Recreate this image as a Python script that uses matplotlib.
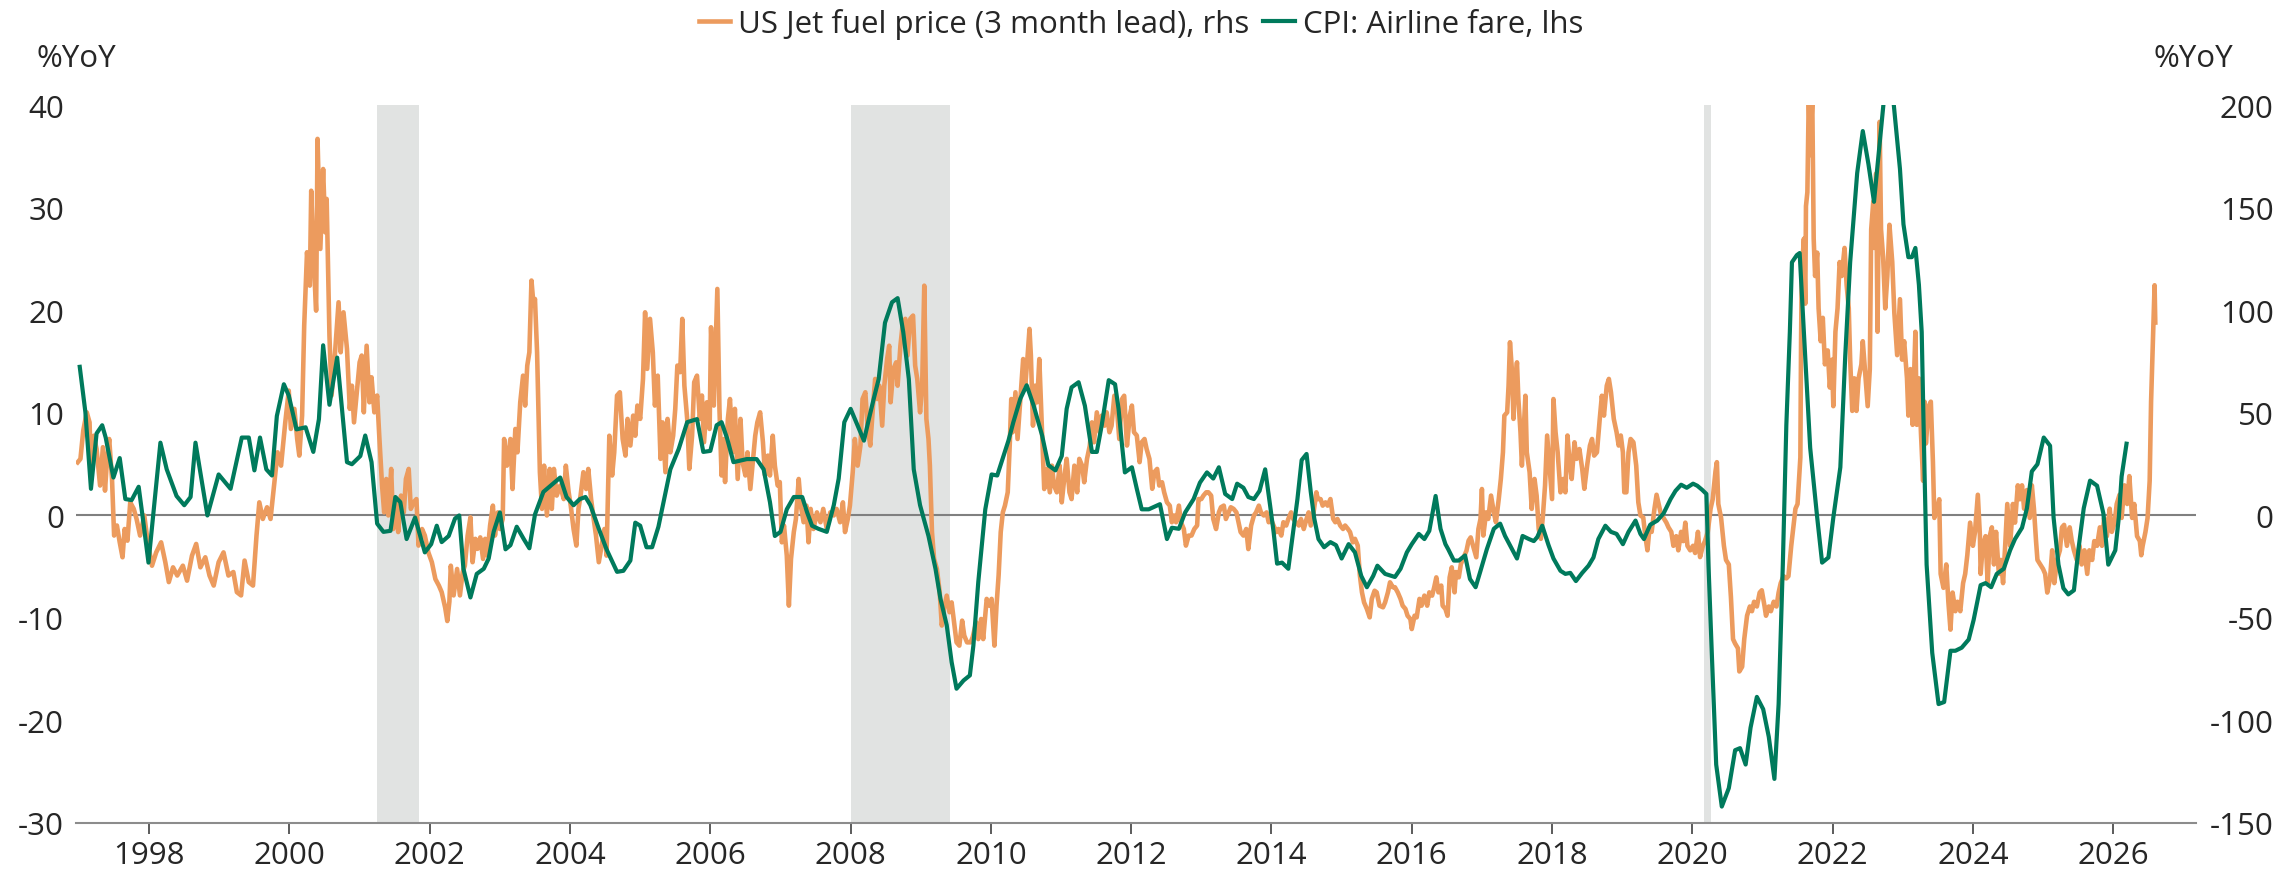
import matplotlib.pyplot as plt

plt.rcParams['font.family'] = ['Open Sans', 'DejaVu Sans']
plt.rcParams['axes.unicode_minus'] = False

# CPI: Airline fare, %YoY (left axis)
cpi_year = [1997.01, 1997.09, 1997.17, 1997.25, 1997.33, 1997.38, 1997.49, 1997.58, 1997.66, 1997.75,
            1997.85, 1997.91, 1997.99, 1998.16, 1998.25, 1998.39, 1998.50, 1998.59, 1998.66, 1998.83,
            1998.99, 1999.16, 1999.32, 1999.42, 1999.50, 1999.58, 1999.67, 1999.75, 1999.82, 1999.92,
            1999.99, 2000.10, 2000.23, 2000.34, 2000.42, 2000.48, 2000.57, 2000.68, 2000.82, 2000.89,
            2001.01, 2001.08, 2001.17, 2001.25, 2001.34, 2001.44, 2001.51, 2001.58, 2001.67, 2001.79,
            2001.93, 2002.02, 2002.10, 2002.17, 2002.27, 2002.36, 2002.42, 2002.48, 2002.58, 2002.67,
            2002.77, 2002.84, 2002.91, 2003.00, 2003.08, 2003.15, 2003.24, 2003.34, 2003.42, 2003.50,
            2003.62, 2003.74, 2003.86, 2003.95, 2004.05, 2004.14, 2004.22, 2004.29, 2004.41, 2004.52,
            2004.67, 2004.76, 2004.86, 2004.93, 2005.00, 2005.09, 2005.17, 2005.26, 2005.43, 2005.55,
            2005.67, 2005.81, 2005.90, 2006.00, 2006.09, 2006.16, 2006.24, 2006.33, 2006.52, 2006.66,
            2006.76, 2006.85, 2006.92, 2007.00, 2007.09, 2007.19, 2007.31, 2007.38, 2007.45, 2007.54,
            2007.66, 2007.76, 2007.83, 2007.91, 2008.00, 2008.14, 2008.19, 2008.26, 2008.33, 2008.40,
            2008.49, 2008.59, 2008.67, 2008.75, 2008.83, 2008.90, 2008.99, 2009.11, 2009.21, 2009.28,
            2009.37, 2009.44, 2009.51, 2009.61, 2009.70, 2009.75, 2009.82, 2009.92, 2010.01, 2010.09,
            2010.18, 2010.25, 2010.32, 2010.42, 2010.51, 2010.61, 2010.73, 2010.82, 2010.92, 2011.01,
            2011.08, 2011.15, 2011.25, 2011.34, 2011.44, 2011.51, 2011.58, 2011.68, 2011.77, 2011.82,
            2011.87, 2011.91, 2012.01, 2012.08, 2012.15, 2012.25, 2012.41, 2012.51, 2012.58, 2012.68,
            2012.77, 2012.89, 2012.98, 2013.08, 2013.17, 2013.25, 2013.34, 2013.44, 2013.51, 2013.60,
            2013.67, 2013.75, 2013.83, 2013.91, 2013.98, 2014.03, 2014.08, 2014.15, 2014.24, 2014.32,
            2014.37, 2014.43, 2014.50, 2014.56, 2014.61, 2014.67, 2014.75, 2014.84, 2014.92, 2015.00,
            2015.10, 2015.19, 2015.28, 2015.36, 2015.45, 2015.51, 2015.62, 2015.76, 2015.84, 2015.93,
            2016.00, 2016.10, 2016.18, 2016.25, 2016.34, 2016.41, 2016.48, 2016.52, 2016.60, 2016.67,
            2016.76, 2016.83, 2016.91, 2016.98, 2017.07, 2017.17, 2017.26, 2017.33, 2017.40, 2017.50,
            2017.58, 2017.67, 2017.74, 2017.79, 2017.86, 2017.95, 2018.02, 2018.12, 2018.19, 2018.26,
            2018.34, 2018.43, 2018.52, 2018.59, 2018.66, 2018.76, 2018.84, 2018.92, 2019.01, 2019.09,
            2019.19, 2019.26, 2019.31, 2019.40, 2019.50, 2019.59, 2019.69, 2019.76, 2019.84, 2019.92,
            2020.01, 2020.07, 2020.14, 2020.20, 2020.23, 2020.28, 2020.34, 2020.42, 2020.52, 2020.61,
            2020.68, 2020.76, 2020.83, 2020.92, 2021.01, 2021.09, 2021.17, 2021.23, 2021.29, 2021.34,
            2021.39, 2021.42, 2021.49, 2021.53, 2021.59, 2021.68, 2021.78, 2021.85, 2021.94, 2022.01,
            2022.11, 2022.18, 2022.25, 2022.35, 2022.43, 2022.51, 2022.59, 2022.66, 2022.73, 2022.80,
            2022.87, 2022.96, 2023.01, 2023.08, 2023.13, 2023.18, 2023.23, 2023.27, 2023.31, 2023.34,
            2023.42, 2023.51, 2023.59, 2023.68, 2023.75, 2023.84, 2023.94, 2024.01, 2024.11, 2024.18,
            2024.26, 2024.34, 2024.44, 2024.53, 2024.60, 2024.70, 2024.77, 2024.84, 2024.92, 2025.01,
            2025.10, 2025.15, 2025.22, 2025.29, 2025.36, 2025.44, 2025.51, 2025.58, 2025.67, 2025.77,
            2025.86, 2025.93, 2026.03, 2026.08, 2026.12, 2026.19]
cpi_yoy = [14.5, 10.1, 2.6, 8.0, 8.8, 7.6, 3.7, 5.6, 1.6, 1.5,
           2.8, -0.3, -4.6, 7.1, 4.5, 1.9, 1.0, 1.8, 7.1, 0.0,
           4.0, 2.6, 7.6, 7.6, 4.4, 7.6, 4.5, 3.9, 9.7, 12.8,
           11.7, 8.4, 8.6, 6.2, 9.4, 16.6, 10.8, 15.4, 5.2, 5.0,
           5.8, 7.8, 5.2, -0.8, -1.6, -1.5, 1.8, 1.3, -2.3, -0.2,
           -3.6, -2.8, -1.0, -2.6, -2.0, -0.3, 0.0, -5.2, -8.0, -5.7,
           -5.2, -4.2, -1.6, 0.3, -3.3, -2.9, -1.1, -2.3, -3.2, 0.1,
           2.3, 3.0, 3.7, 1.8, 1.0, 1.6, 1.8, 1.0, -1.3, -3.3,
           -5.5, -5.4, -4.4, -0.7, -1.0, -3.1, -3.1, -1.1, 4.5, 6.5,
           9.1, 9.4, 6.2, 6.3, 8.8, 9.1, 7.5, 5.2, 5.5, 5.5,
           4.5, 1.3, -2.0, -1.6, 0.6, 1.8, 1.8, 0.3, -1.0, -1.3,
           -1.6, 1.0, 3.6, 9.1, 10.4, 8.1, 7.3, 9.4, 11.4, 13.3,
           18.8, 20.8, 21.2, 17.9, 13.3, 4.5, 1.0, -2.0, -5.2, -8.1,
           -10.7, -14.3, -16.9, -16.1, -15.6, -12.7, -6.5, 0.6, 4.0, 3.9,
           5.8, 7.3, 9.1, 11.4, 12.7, 10.7, 7.8, 4.9, 4.4, 5.8,
           10.4, 12.5, 13.0, 10.7, 6.2, 6.2, 8.8, 13.2, 12.8, 10.4,
           6.8, 4.2, 4.7, 2.6, 0.6, 0.6, 1.1, -2.3, -1.2, -1.3,
           0.3, 1.6, 3.2, 4.2, 3.6, 4.7, 2.1, 1.6, 3.1, 2.7,
           1.8, 1.6, 2.4, 4.5, 1.0, -1.6, -4.7, -4.6, -5.2, -1.0,
           1.6, 5.4, 6.0, 2.3, -0.3, -2.3, -3.1, -2.6, -2.9, -4.2,
           -2.8, -3.6, -5.9, -7.0, -5.9, -4.9, -5.7, -6.0, -5.2, -3.6,
           -2.8, -1.8, -2.3, -1.5, 1.9, -1.3, -2.8, -3.3, -4.4, -4.4,
           -3.9, -6.2, -7.0, -5.4, -3.3, -1.3, -0.8, -2.0, -2.9, -4.2,
           -2.0, -2.3, -2.5, -2.1, -1.0, -2.9, -4.2, -5.4, -5.7, -5.6,
           -6.4, -5.6, -4.9, -4.1, -2.3, -1.0, -1.6, -1.8, -2.8, -1.6,
           -0.5, -1.8, -2.3, -0.9, -0.5, 0.2, 1.6, 2.4, 3.0, 2.7,
           3.1, 2.9, 2.5, 2.1, -4.8, -13.9, -24.3, -28.4, -26.6, -22.9,
           -22.7, -24.3, -20.7, -17.7, -18.9, -21.6, -25.7, -18.4, -4.8, 8.8,
           17.9, 24.7, 25.4, 25.6, 17.9, 6.6, -0.2, -4.6, -4.1, -0.2,
           4.7, 15.6, 24.7, 33.4, 37.5, 34.3, 30.6, 35.6, 40.5, 44.0,
           40.2, 33.8, 28.4, 25.2, 25.2, 26.1, 22.5, 17.9, 4.3, -4.8,
           -13.4, -18.4, -18.2, -13.2, -13.2, -12.9, -12.1, -10.2, -6.8, -6.6,
           -7.0, -5.7, -5.2, -3.4, -2.3, -1.2, 0.7, 4.3, 5.0, 7.6,
           6.8, -0.2, -4.8, -7.1, -7.7, -7.3, -3.0, 0.7, 3.4, 2.9,
           0.2, -4.8, -3.4, -0.2, 3.8, 7.0]

# US Jet fuel price, %YoY, shifted 3 months ahead (right axis): (year, value)
jet_points = [
    (1996.98, 25.9), (1997.02, 27.6), (1997.06, 41.4), (1997.11, 50.3), (1997.15, 45.4), (1997.17, 22.7),
    (1997.21, 38.9), (1997.25, 32.4), (1997.30, 14.6), (1997.34, 33.3), (1997.37, 12.1), (1997.40, 27.6),
    (1997.43, 37.3), (1997.47, 17.8), (1997.50, -9.8), (1997.54, -4.9), (1997.58, -13.1), (1997.62, -20.4),
    (1997.65, -6.6), (1997.69, -12.3), (1997.73, 6.4), (1997.78, 3.2), (1997.82, -1.7), (1997.87, -9.8),
    (1997.93, 0.0), (1997.98, -13.1), (1998.04, -24.5), (1998.10, -18.0), (1998.17, -13.1), (1998.23, -22.8),
    (1998.28, -32.5), (1998.34, -25.3), (1998.40, -29.3), (1998.48, -24.5), (1998.54, -31.8), (1998.61, -19.6),
    (1998.67, -13.9), (1998.73, -25.3), (1998.80, -20.4), (1998.86, -29.3), (1998.92, -34.2), (1998.99, -22.8),
    (1999.06, -18.0), (1999.13, -29.3), (1999.20, -27.6), (1999.25, -37.4), (1999.31, -39.0), (1999.36, -22.0),
    (1999.42, -32.5), (1999.48, -34.2), (1999.53, -9.8), (1999.57, 6.4), (1999.62, -1.7), (1999.68, 4.0),
    (1999.73, -1.7), (1999.78, 14.6), (1999.83, 30.8), (1999.88, 24.3), (1999.94, 45.4), (1999.99, 60.9),
    (2000.02, 42.2), (2000.07, 52.0), (2000.11, 37.3), (2000.14, 29.2), (2000.18, 48.7), (2000.21, 92.6),
    (2000.25, 128.4), (2000.29, 112.1), (2000.31, 158.4), (2000.34, 128.4), (2000.38, 99.9), (2000.40, 183.7),
    (2000.44, 130.0), (2000.48, 169.0), (2000.51, 138.1), (2000.53, 154.4), (2000.57, 87.7), (2000.60, 58.5),
    (2000.65, 79.6), (2000.70, 104.0), (2000.73, 79.6), (2000.77, 99.1), (2000.82, 81.2), (2000.86, 52.0),
    (2000.89, 63.3), (2000.92, 45.4), (2000.96, 60.1), (2001.00, 74.7), (2001.03, 78.0), (2001.06, 50.3),
    (2001.10, 82.8), (2001.14, 55.2), (2001.17, 67.4), (2001.21, 50.3), (2001.25, 58.5), (2001.28, 38.9),
    (2001.32, 14.6), (2001.35, 1.5), (2001.38, 17.8), (2001.41, 0.0), (2001.45, 22.7), (2001.48, -6.6),
    (2001.52, 6.4), (2001.55, -8.1), (2001.59, 9.7), (2001.63, 1.5), (2001.66, 17.8), (2001.70, 22.7),
    (2001.73, 3.2), (2001.77, 6.4), (2001.81, 8.0), (2001.84, -14.7), (2001.89, -6.6), (2001.93, -9.8),
    (2001.98, -18.0), (2002.03, -22.8), (2002.08, -31.0), (2002.13, -34.2), (2002.17, -37.4), (2002.22, -45.0),
    (2002.25, -51.5), (2002.28, -42.0), (2002.30, -24.5), (2002.34, -39.0), (2002.39, -26.1), (2002.43, -39.0),
    (2002.47, -27.6), (2002.50, -24.5), (2002.54, -9.8), (2002.58, -0.9), (2002.61, -22.8), (2002.65, -11.4),
    (2002.68, -16.3), (2002.72, -10.7), (2002.76, -21.2), (2002.79, -11.4), (2002.82, -19.6), (2002.86, -4.9),
    (2002.90, 4.8), (2002.93, -9.8), (2002.97, 1.5), (2003.00, -6.6), (2003.04, -1.7), (2003.06, 37.3),
    (2003.10, 24.3), (2003.15, 37.3), (2003.18, 12.9), (2003.22, 42.2), (2003.25, 30.8), (2003.29, 55.2),
    (2003.33, 68.2), (2003.36, 53.6), (2003.39, 73.1), (2003.42, 79.6), (2003.45, 114.6), (2003.48, 102.4),
    (2003.50, 105.6), (2003.53, 79.6), (2003.57, 21.1), (2003.60, 3.2), (2003.63, 24.3), (2003.67, 0.0),
    (2003.71, 22.7), (2003.74, 3.2), (2003.77, 22.7), (2003.81, 9.7), (2003.86, 14.6), (2003.91, 8.0),
    (2003.94, 24.3), (2003.98, 11.4), (2004.01, 4.8), (2004.05, -6.6), (2004.09, -14.7), (2004.12, 3.2),
    (2004.15, 9.7), (2004.19, 21.1), (2004.23, 12.9), (2004.26, 22.7), (2004.30, 8.0), (2004.33, 0.0),
    (2004.37, -9.8), (2004.41, -22.8), (2004.49, -6.6), (2004.52, -19.6), (2004.56, 38.9), (2004.60, 19.5),
    (2004.63, 30.8), (2004.67, 58.5), (2004.71, 60.1), (2004.75, 37.3), (2004.79, 29.2), (2004.82, 47.1),
    (2004.86, 34.1), (2004.90, 48.7), (2004.93, 38.9), (2004.96, 53.6), (2005.00, 47.1), (2005.04, 66.6),
    (2005.07, 99.1), (2005.10, 71.5), (2005.14, 95.9), (2005.18, 79.6), (2005.21, 53.6), (2005.25, 68.2),
    (2005.29, 27.6), (2005.32, 45.4), (2005.36, 21.1), (2005.39, 47.1), (2005.43, 30.8), (2005.47, 38.9),
    (2005.50, 52.0), (2005.53, 73.1), (2005.57, 69.9), (2005.60, 95.9), (2005.63, 63.3), (2005.67, 47.1),
    (2005.70, 22.7), (2005.74, 38.9), (2005.77, 65.0), (2005.81, 68.2), (2005.85, 47.1), (2005.88, 58.5),
    (2005.91, 35.7), (2005.95, 55.2), (2005.99, 42.2), (2006.01, 91.8), (2006.05, 53.6), (2006.07, 76.3),
    (2006.10, 110.5), (2006.13, 52.0), (2006.16, 19.5), (2006.19, 37.3), (2006.21, 16.3), (2006.25, 47.1),
    (2006.28, 56.8), (2006.32, 30.8), (2006.35, 52.0), (2006.39, 17.8), (2006.43, 47.1), (2006.46, 25.9),
    (2006.50, 19.5), (2006.53, 30.8), (2006.57, 12.9), (2006.61, 27.6), (2006.64, 38.9), (2006.67, 45.4),
    (2006.71, 50.3), (2006.75, 35.7), (2006.78, 19.5), (2006.82, 29.2), (2006.85, 19.5), (2006.89, 38.9),
    (2006.92, 24.3), (2006.96, 14.6), (2006.99, 16.3), (2007.02, -13.1), (2007.05, -4.9), (2007.09, -19.6),
    (2007.12, -44.0), (2007.15, -21.2), (2007.19, -8.1), (2007.22, -1.7), (2007.26, 17.8), (2007.29, 4.8),
    (2007.33, -3.3), (2007.37, 4.8), (2007.40, -13.1), (2007.43, 3.2), (2007.47, -6.6), (2007.52, 1.5),
    (2007.57, -3.3), (2007.61, 3.2), (2007.66, -6.6), (2007.71, 1.5), (2007.76, 0.0), (2007.80, 3.2),
    (2007.85, -3.3), (2007.89, 6.4), (2007.92, -8.1), (2007.96, -1.7), (2007.99, 4.8), (2008.03, 21.1),
    (2008.06, 37.3), (2008.10, 24.3), (2008.14, 34.1), (2008.17, 56.8), (2008.21, 60.1), (2008.24, 43.8),
    (2008.28, 34.1), (2008.32, 53.6), (2008.35, 66.6), (2008.38, 56.8), (2008.41, 63.3), (2008.45, 43.8),
    (2008.48, 63.3), (2008.52, 76.3), (2008.55, 82.8), (2008.57, 55.2), (2008.61, 71.5), (2008.65, 74.7),
    (2008.67, 63.3), (2008.71, 82.8), (2008.74, 92.6), (2008.78, 95.9), (2008.81, 78.0), (2008.85, 95.9),
    (2008.89, 97.5), (2008.92, 73.1), (2008.95, 66.6), (2008.99, 50.3), (2009.02, 63.3), (2009.05, 112.1),
    (2009.08, 47.1), (2009.11, 37.3), (2009.13, 24.3), (2009.16, -8.1), (2009.19, -21.2), (2009.23, -26.1),
    (2009.27, -37.5), (2009.30, -53.7), (2009.33, -45.6), (2009.37, -39.1), (2009.41, -47.2), (2009.44, -42.4),
    (2009.48, -53.7), (2009.51, -61.9), (2009.55, -63.5), (2009.59, -51.3), (2009.62, -58.6), (2009.66, -61.9),
    (2009.71, -61.9), (2009.74, -59.4), (2009.79, -52.1), (2009.82, -60.3), (2009.86, -50.5), (2009.89, -60.3),
    (2009.94, -40.7), (2009.98, -44.0), (2010.01, -40.7), (2010.05, -63.5), (2010.08, -44.0), (2010.11, -29.2),
    (2010.14, -8.1), (2010.17, 1.5), (2010.20, 4.8), (2010.24, 11.3), (2010.27, 35.7), (2010.29, 56.8),
    (2010.31, 40.6), (2010.35, 60.1), (2010.38, 37.3), (2010.42, 56.8), (2010.46, 76.3), (2010.49, 63.3),
    (2010.52, 76.3), (2010.55, 91.0), (2010.57, 78.0), (2010.60, 43.8), (2010.63, 63.3), (2010.66, 55.2),
    (2010.69, 76.3), (2010.73, 40.6), (2010.76, 12.9), (2010.80, 22.7), (2010.84, 11.3), (2010.87, 24.3),
    (2010.90, 14.6), (2010.94, 11.3), (2010.98, 24.3), (2011.01, 6.4), (2011.05, 19.4), (2011.08, 27.6),
    (2011.12, 11.3), (2011.15, 8.0), (2011.19, 24.3), (2011.23, 11.3), (2011.26, 27.6), (2011.30, 24.3),
    (2011.33, 16.2), (2011.37, 27.6), (2011.41, 34.1), (2011.44, 45.4), (2011.47, 35.7), (2011.51, 50.3),
    (2011.55, 40.6), (2011.58, 48.7), (2011.62, 43.8), (2011.65, 50.3), (2011.69, 40.6), (2011.72, 43.8),
    (2011.76, 58.4), (2011.79, 55.2), (2011.83, 37.3), (2011.87, 56.8), (2011.90, 58.4), (2011.94, 34.1),
    (2011.98, 48.7), (2012.01, 53.6), (2012.04, 40.6), (2012.08, 39.0), (2012.12, 26.0), (2012.15, 35.7),
    (2012.19, 37.3), (2012.22, 32.4), (2012.26, 27.6), (2012.30, 13.0), (2012.33, 21.1), (2012.37, 22.7),
    (2012.40, 14.6), (2012.44, 16.2), (2012.47, 11.3), (2012.51, 6.4), (2012.55, 4.8), (2012.58, -3.3),
    (2012.61, 0.0), (2012.64, -3.3), (2012.68, 4.8), (2012.71, -3.3), (2012.75, -6.6), (2012.78, -14.7),
    (2012.82, -9.8), (2012.86, -9.8), (2012.90, -6.6), (2012.94, -4.9), (2012.96, 8.0), (2013.00, 8.0),
    (2013.03, 9.7), (2013.07, 11.3), (2013.10, 11.3), (2013.14, 9.7), (2013.17, -1.7), (2013.21, -6.6),
    (2013.25, 1.5), (2013.28, 4.0), (2013.32, 4.8), (2013.35, -1.7), (2013.39, 1.5), (2013.42, 4.0),
    (2013.46, 3.2), (2013.50, 1.5), (2013.53, -3.3), (2013.56, -8.1), (2013.60, -9.8), (2013.64, -6.6),
    (2013.67, -16.4), (2013.71, -4.9), (2013.75, 0.0), (2013.78, 1.5), (2013.82, 4.8), (2013.85, 1.5),
    (2013.89, 0.0), (2013.93, 1.5), (2013.96, -3.3), (2013.99, -1.7), (2014.03, -4.9), (2014.07, -8.1),
    (2014.10, -6.6), (2014.14, -9.8), (2014.17, -3.3), (2014.21, -4.9), (2014.24, -1.7), (2014.28, 1.5),
    (2014.31, -1.7), (2014.35, -3.3), (2014.39, -4.9), (2014.42, -1.7), (2014.46, -6.6), (2014.50, -1.7),
    (2014.53, 1.5), (2014.56, -4.9), (2014.60, 1.5), (2014.64, 11.3), (2014.66, 8.0), (2014.70, 8.0),
    (2014.73, 4.8), (2014.77, 6.4), (2014.80, 4.8), (2014.84, 8.0), (2014.88, -1.7), (2014.91, -3.3),
    (2014.94, -1.7), (2014.98, -4.9), (2015.02, -6.6), (2015.05, -4.9), (2015.09, -6.6), (2015.12, -8.1),
    (2015.16, -13.1), (2015.19, -11.4), (2015.23, -14.7), (2015.26, -29.2), (2015.29, -37.5), (2015.32, -42.4),
    (2015.36, -45.6), (2015.40, -49.7), (2015.43, -40.7), (2015.47, -36.7), (2015.50, -37.5), (2015.54, -44.0),
    (2015.59, -44.8), (2015.62, -42.4), (2015.66, -37.5), (2015.69, -32.6), (2015.73, -35.0), (2015.76, -35.0),
    (2015.80, -37.5), (2015.84, -40.7), (2015.87, -44.0), (2015.91, -45.6), (2015.94, -48.9), (2015.98, -50.5),
    (2016.00, -55.4), (2016.04, -48.9), (2016.07, -49.7), (2016.11, -40.7), (2016.14, -44.0), (2016.18, -39.1),
    (2016.22, -44.0), (2016.25, -37.5), (2016.29, -39.1), (2016.32, -35.0), (2016.35, -30.2), (2016.38, -37.5),
    (2016.42, -34.2), (2016.44, -44.0), (2016.48, -45.6), (2016.51, -48.9), (2016.54, -30.2), (2016.57, -25.3),
    (2016.61, -37.5), (2016.63, -27.6), (2016.67, -30.2), (2016.70, -23.7), (2016.74, -20.4), (2016.78, -17.2),
    (2016.81, -12.3), (2016.84, -10.7), (2016.88, -15.5), (2016.92, -20.4), (2016.95, -6.6), (2016.98, -1.7),
    (2017.00, 12.9), (2017.02, -9.8), (2017.06, 1.5), (2017.09, -1.7), (2017.13, 9.7), (2017.17, 1.5),
    (2017.20, -3.3), (2017.24, 8.0), (2017.27, 17.8), (2017.30, 30.8), (2017.32, 48.7), (2017.36, 50.3),
    (2017.38, 63.3), (2017.40, 84.5), (2017.43, 69.8), (2017.45, 47.1), (2017.47, 63.3), (2017.50, 74.7),
    (2017.52, 56.8), (2017.55, 40.6), (2017.57, 24.3), (2017.59, 37.3), (2017.62, 58.4), (2017.64, 30.8),
    (2017.68, 21.1), (2017.71, 3.2), (2017.75, 17.8), (2017.78, 9.7), (2017.81, -6.6), (2017.84, -11.4),
    (2017.87, 0.0), (2017.90, 14.6), (2017.93, 39.0), (2017.96, 26.0), (2018.00, 8.0), (2018.02, 56.8),
    (2018.05, 40.6), (2018.08, 30.8), (2018.12, 11.3), (2018.16, 17.8), (2018.19, 11.3), (2018.22, 39.0),
    (2018.25, 26.0), (2018.28, 17.8), (2018.32, 35.7), (2018.35, 27.6), (2018.39, 32.4), (2018.43, 22.7),
    (2018.46, 13.0), (2018.50, 24.3), (2018.54, 34.1), (2018.57, 37.3), (2018.60, 29.2), (2018.64, 30.8),
    (2018.68, 47.1), (2018.71, 58.4), (2018.74, 48.7), (2018.78, 63.3), (2018.81, 66.6), (2018.84, 60.1),
    (2018.88, 47.1), (2018.92, 40.6), (2018.95, 34.1), (2018.98, 39.0), (2019.01, 30.8), (2019.03, 11.3),
    (2019.06, 11.3), (2019.09, 30.8), (2019.12, 37.3), (2019.16, 35.7), (2019.20, 24.3), (2019.23, 6.4),
    (2019.26, 0.0), (2019.30, -1.0), (2019.33, -10.1), (2019.36, -17.0), (2019.39, -5.8), (2019.42, -8.0),
    (2019.46, 3.3), (2019.49, 10.1), (2019.52, 5.6), (2019.55, 1.0), (2019.59, -1.2), (2019.63, -3.5),
    (2019.66, -5.8), (2019.70, -8.0), (2019.73, -14.8), (2019.77, -10.1), (2019.80, -17.0), (2019.84, -8.0),
    (2019.87, -12.5), (2019.90, -3.5), (2019.93, -14.8), (2019.97, -17.0), (2020.01, -14.8), (2020.04, -18.3),
    (2020.08, -8.0), (2020.11, -20.3), (2020.15, -14.8), (2020.18, -12.5), (2020.22, -8.0), (2020.26, 3.3),
    (2020.29, 7.9), (2020.33, 21.5), (2020.35, 26.0), (2020.37, 5.6), (2020.41, -1.2), (2020.45, -14.8),
    (2020.48, -21.7), (2020.52, -23.9), (2020.55, -39.8), (2020.58, -60.3), (2020.61, -62.5), (2020.65, -64.8),
    (2020.67, -76.1), (2020.71, -73.8), (2020.74, -60.3), (2020.78, -48.9), (2020.82, -44.4), (2020.85, -46.7),
    (2020.88, -42.1), (2020.92, -44.4), (2020.96, -37.6), (2020.99, -36.5), (2021.03, -44.4), (2021.05, -48.9),
    (2021.09, -44.4), (2021.12, -46.7), (2021.16, -42.1), (2021.20, -44.4), (2021.23, -37.6), (2021.26, -33.0),
    (2021.30, -29.6), (2021.34, -30.7), (2021.37, -29.6), (2021.41, -14.8), (2021.44, -5.8), (2021.47, 3.3),
    (2021.50, 5.6), (2021.54, 28.3), (2021.55, 85.0), (2021.56, 119.1), (2021.59, 135.0), (2021.61, 103.3),
    (2021.62, 150.9), (2021.64, 157.7), (2021.66, 205.0), (2021.68, 175.8), (2021.71, 203.0), (2021.73, 135.0),
    (2021.75, 116.8), (2021.78, 128.2), (2021.80, 101.0), (2021.83, 85.0), (2021.86, 96.4), (2021.89, 73.7),
    (2021.93, 80.5), (2021.96, 62.4), (2021.99, 76.0), (2022.01, 53.3), (2022.04, 89.6), (2022.07, 101.0),
    (2022.10, 123.6), (2022.13, 116.8), (2022.17, 130.5), (2022.20, 112.3), (2022.23, 101.0), (2022.25, 76.0),
    (2022.28, 51.0), (2022.31, 66.9), (2022.34, 51.0), (2022.37, 66.9), (2022.41, 73.7), (2022.43, 85.0),
    (2022.47, 66.9), (2022.50, 53.3), (2022.53, 71.4), (2022.55, 139.6), (2022.58, 153.2), (2022.59, 130.5),
    (2022.62, 166.8), (2022.64, 89.6), (2022.67, 192.0), (2022.69, 139.6), (2022.72, 125.9), (2022.75, 101.0),
    (2022.78, 116.8), (2022.81, 141.8), (2022.85, 123.6), (2022.88, 98.7), (2022.92, 78.2), (2022.96, 105.5),
    (2022.99, 76.0), (2023.02, 85.0), (2023.06, 66.9), (2023.08, 48.7), (2023.11, 71.4), (2023.14, 44.2),
    (2023.18, 89.6), (2023.20, 44.2), (2023.23, 66.9), (2023.26, 39.6), (2023.29, 16.9), (2023.31, 55.5),
    (2023.33, 35.1), (2023.37, 53.3), (2023.40, 55.5), (2023.43, 26.0), (2023.45, -1.2), (2023.49, 3.3),
    (2023.52, 7.9), (2023.54, -28.5), (2023.58, -35.3), (2023.62, -23.9), (2023.65, -42.1), (2023.68, -55.7),
    (2023.71, -37.6), (2023.75, -46.7), (2023.78, -42.1), (2023.82, -46.7), (2023.86, -33.0), (2023.89, -28.5),
    (2023.92, -19.4), (2023.96, -3.5), (2024.00, -14.8), (2024.03, -8.0), (2024.07, 10.1), (2024.10, -10.1),
    (2024.11, -28.5), (2024.14, -14.8), (2024.18, -10.1), (2024.21, -33.0), (2024.24, -10.1), (2024.27, -5.8),
    (2024.30, -23.9), (2024.33, -8.0), (2024.37, -28.5), (2024.40, -21.7), (2024.43, -33.0), (2024.46, -14.8),
    (2024.49, 5.6), (2024.53, -14.8), (2024.57, 5.6), (2024.60, -3.5), (2024.64, 14.7), (2024.67, 7.9),
    (2024.70, 14.7), (2024.73, 3.3), (2024.77, 12.4), (2024.81, -1.2), (2024.84, 14.7), (2024.87, 3.3),
    (2024.90, -12.5), (2024.92, -21.7), (2024.96, -23.9), (2025.00, -26.1), (2025.03, -28.5), (2025.06, -37.6),
    (2025.10, -30.7), (2025.13, -17.0), (2025.16, -33.0), (2025.20, -21.7), (2025.24, -17.0), (2025.27, -5.8),
    (2025.30, -4.6), (2025.34, -14.8), (2025.38, -5.8), (2025.41, -12.5), (2025.44, -17.0), (2025.48, -21.7),
    (2025.52, -14.8), (2025.55, -23.9), (2025.59, -17.0), (2025.63, -28.5), (2025.66, -17.0), (2025.70, -21.7),
    (2025.73, -12.5), (2025.77, -14.8), (2025.81, -5.8), (2025.84, -14.8), (2025.87, -1.2), (2025.91, -10.1),
    (2025.95, 3.3), (2025.98, -8.0), (2026.02, -3.5), (2026.05, 5.6), (2026.09, 10.1), (2026.12, -1.2),
    (2026.16, 14.7), (2026.20, 5.6), (2026.23, 19.2), (2026.27, -1.2), (2026.30, 5.6), (2026.34, -10.1),
    (2026.38, -12.5), (2026.40, -19.4), (2026.42, -14.8), (2026.46, -8.0), (2026.49, -1.2), (2026.52, 16.9),
    (2026.54, 55.5), (2026.57, 89.6), (2026.59, 112.3), (2026.60, 94.1),
]
jet_year = [p[0] for p in jet_points]
jet_yoy = [p[1] for p in jet_points]

# recession bands (shaded)
recessions = [(2001.25, 2001.85), (2008.0, 2009.42), (2020.17, 2020.26)]

x_ticks = list(range(1998, 2027, 2))
left_ticks = [-30, -20, -10, 0, 10, 20, 30, 40]
right_ticks = [-150, -100, -50, 0, 50, 100, 150, 200]

GREEN = '#007A5C'
ORANGE = '#EC9B5E'
SHADE = '#E1E3E2'
TXT = '#262626'
FS = 22.5

fig = plt.figure(figsize=(22.82, 8.79), dpi=100)
ax = fig.add_axes([0.0331, 0.0626, 0.9292, 0.8163])
ax2 = ax.twinx()
# green (lhs) drawn above the orange (rhs)
ax.set_zorder(ax2.get_zorder() + 1)
ax.patch.set_visible(False)

for a, b in recessions:
    ax2.axvspan(a, b, color=SHADE, lw=0, zorder=0)
ax2.axhline(0, color='#808080', lw=1.5, zorder=1)
l_jet, = ax2.plot(jet_year, jet_yoy, color=ORANGE, lw=3.3, zorder=2)
l_cpi, = ax.plot(cpi_year, cpi_yoy, color=GREEN, lw=3.0)

ax.set_xlim(1996.95, 2027.18)
ax.set_ylim(-30, 40)
ax2.set_ylim(-150, 200)
ax.set_xticks(x_ticks)
ax.set_yticks(left_ticks)
ax2.set_yticks(right_ticks)

for a in (ax, ax2):
    for s in ['top', 'left', 'right', 'bottom']:
        a.spines[s].set_visible(False)
ax.spines['bottom'].set_visible(True)
ax.spines['bottom'].set_color('#8c8c8c')
ax.spines['bottom'].set_linewidth(1.5)

ax.tick_params(axis='x', length=8, width=1.2, color='#404040', labelsize=FS, labelcolor=TXT, pad=4)
ax.tick_params(axis='y', length=0, labelsize=FS, labelcolor=TXT, pad=8.3)
ax2.tick_params(axis='y', length=0, labelsize=FS, labelcolor=TXT, pad=56)
for lbl in ax2.get_yticklabels():
    lbl.set_horizontalalignment('right')

fig.text(0.0162, 0.933, '%YoY', ha='left', va='center', fontsize=FS, color=TXT)
fig.text(0.9785, 0.933, '%YoY', ha='right', va='center', fontsize=FS, color=TXT)

fig.legend([l_jet, l_cpi], ['US Jet fuel price (3 month lead), rhs', 'CPI: Airline fare, lhs'],
           loc='center', bbox_to_anchor=(0.5, 0.972), ncol=2, frameon=False,
           handlelength=1.0, handletextpad=0.25, columnspacing=0.45, fontsize=FS,
           labelcolor=TXT)

fig.savefig('out.png', dpi=100)
